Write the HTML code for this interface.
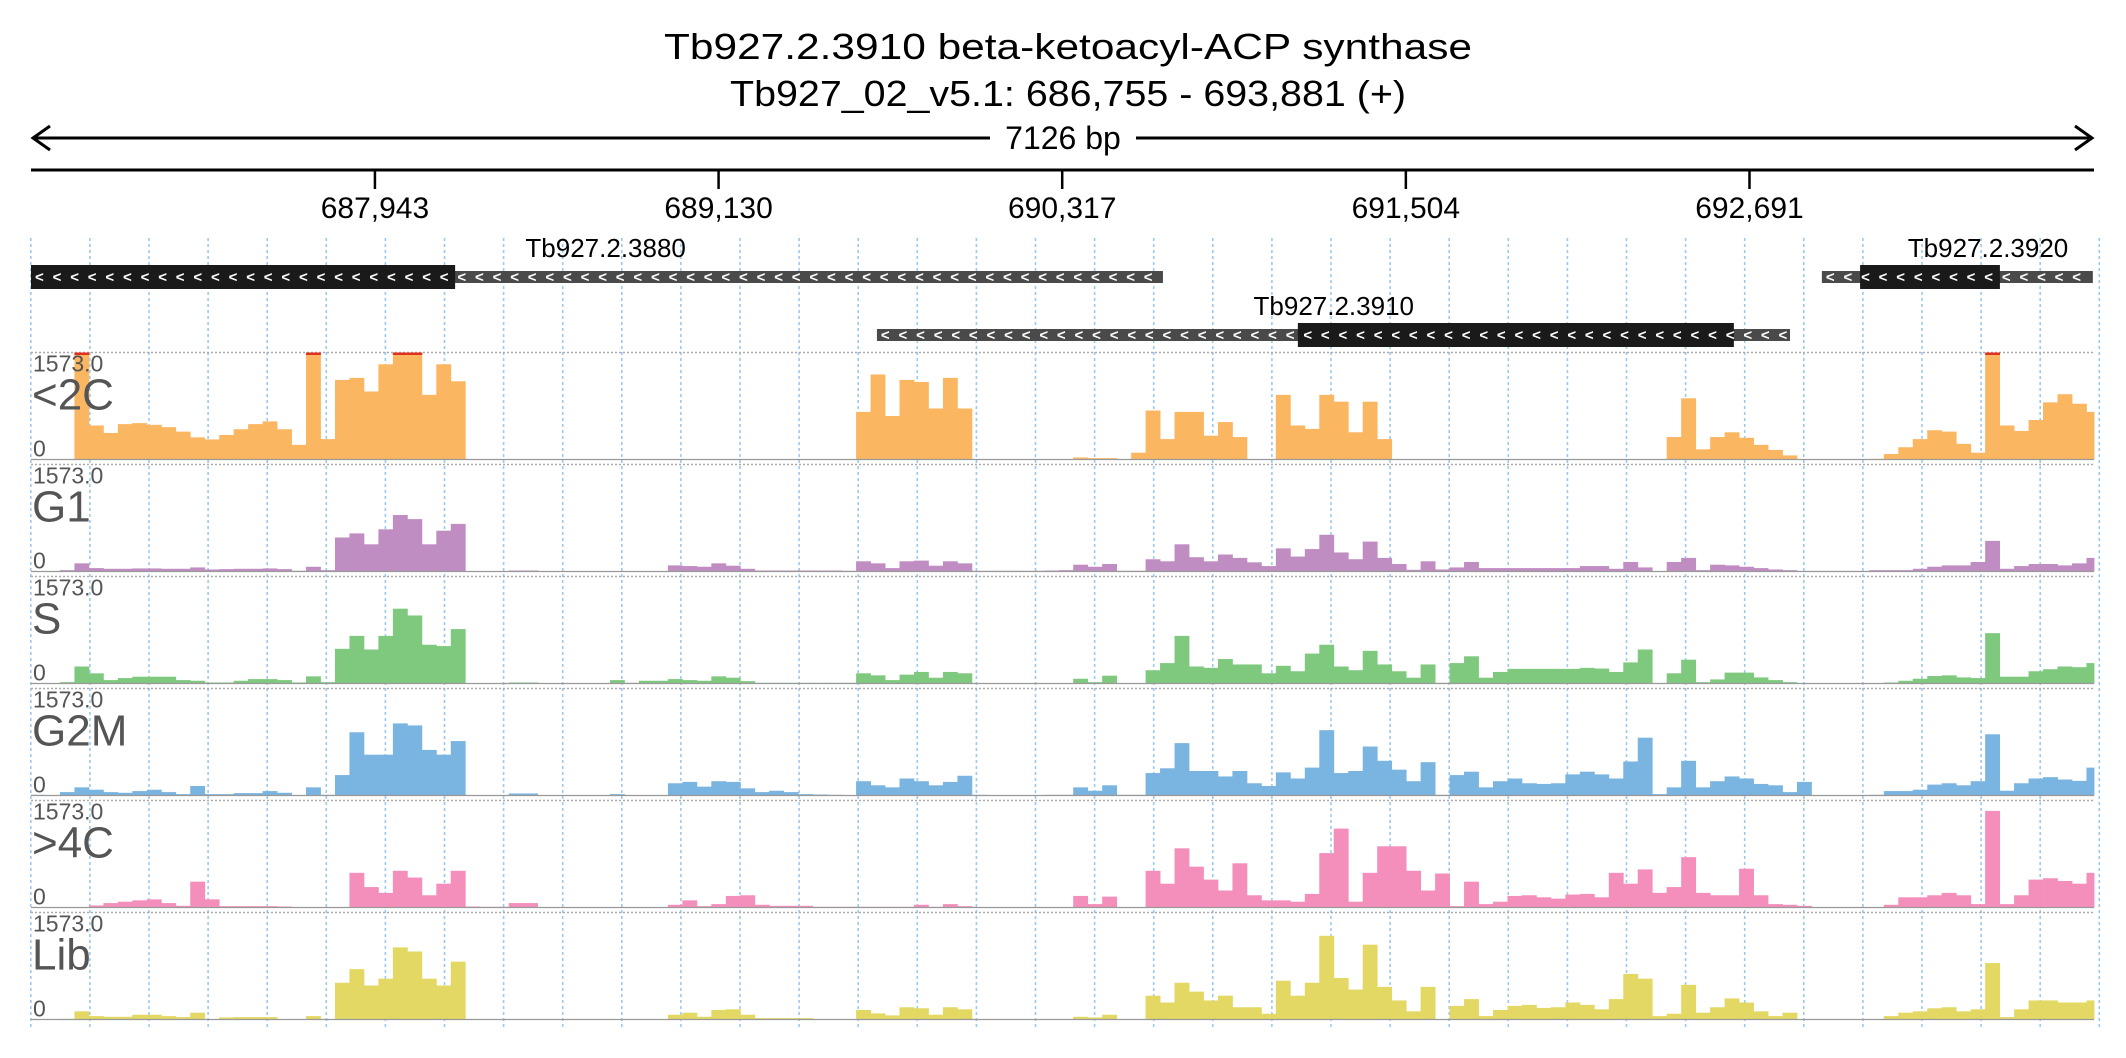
<!DOCTYPE html>
<html><head><meta charset="utf-8"><style>
html,body{margin:0;padding:0;background:#fff;}
svg{display:block;font-family:"Liberation Sans",sans-serif;}
</style></head><body>
<svg id="chart" width="2126" height="1058" viewBox="0 0 2126 1058" xmlns="http://www.w3.org/2000/svg">
<g>
<text x="1068" y="59" text-anchor="middle" font-size="36" textLength="808" lengthAdjust="spacingAndGlyphs">Tb927.2.3910  beta-ketoacyl-ACP synthase</text>
<text x="1068" y="106" text-anchor="middle" font-size="36" textLength="676" lengthAdjust="spacingAndGlyphs">Tb927_02_v5.1: 686,755 - 693,881 (+)</text>
</g>
<g>
<line x1="33" y1="138" x2="2092" y2="138" stroke="#000" stroke-width="3"/>
<polyline points="50,126 33,138 50,150" fill="none" stroke="#000" stroke-width="3"/>
<polyline points="2075,126 2092,138 2075,150" fill="none" stroke="#000" stroke-width="3"/>
<rect x="990" y="120" width="146" height="36" fill="#fff"/>
<text x="1063" y="149" text-anchor="middle" font-size="32">7126 bp</text>
</g>
<line x1="31" y1="170" x2="2094" y2="170" stroke="#000" stroke-width="3"/>
<g id="ticks"></g>
<g id="grid"></g>
<g id="genes"></g>
<g id="tracks"></g>
</svg>
<script>
const startBp = 686755;
const spanBp = 7126;
const binBp = 50;
const maxVal = 1573;
const tickValues = [687943, 689130, 690317, 691504, 692691];
const tickLabels = ["687,943", "689,130", "690,317", "691,504", "692,691"];
const trackNames = ["<2C", "G1", "S", "G2M", ">4C", "Lib"];
const trackColors = ["#fbb661", "#c08dc3", "#7fc97f", "#7ab4e0", "#f48fbc", "#e3d863"];
const genes = ["Tb927.2.3880", "Tb927.2.3910", "Tb927.2.3920"];
const geneStart = [686755, 689677, 692941];
const geneEnd = [690665, 692831, 693877];
const cdsStart = [686755, 691131, 693073];
const cdsEnd = [688220, 692637, 693556];
const geneRow = [0, 1, 0];
const geneLabelBp = [688740, 691255, 693515];

const cov2C = [0,0,0,1700,500,390,520,535,510,475,410,325,295,360,445,520,560,445,215,1700,300,1170,1200,1000,1400,1700,1700,950,1400,1150,
0,0,0,0,0,0,0,0,0,0,0,0,0,0,0,0,0,0,0,0,0,0,0,0,0,0,0,
700,1250,640,1170,1140,750,1200,750,
0,0,0,0,0,0,0,
30,20,20,0,100,720,300,700,700,350,550,330,0,0,950,500,450,950,850,400,850,300,
0,0,0,0,0,0,0,0,0,0,0,0,0,0,0,0,0,0,0,
330,900,150,330,400,320,215,140,60,5,5,5,5,5,10,80,180,300,430,410,230,100,1700,500,420,580,840,960,820,700];
const covG1 = [5,5,20,120,50,40,40,45,45,40,40,60,30,35,40,40,45,35,10,70,20,500,560,400,620,830,770,400,600,700,
5,5,5,15,15,5,5,5,5,5,5,5,5,5,
90,80,70,120,85,40,15,15,15,15,15,15,10,150,120,50,150,160,85,150,120,10,10,10,10,10,15,20,
100,70,110,10,10,180,150,400,210,150,250,200,135,80,340,220,330,540,280,180,440,200,110,25,150,30,60,140,50,50,50,50,50,50,50,
80,80,40,140,60,0,140,200,20,100,90,70,50,30,20,8,8,8,8,8,20,20,20,40,70,90,90,140,450,40,80,110,110,90,120,200];
const covS = [5,5,20,250,150,50,80,100,100,100,50,40,15,15,40,65,65,50,15,105,20,510,700,500,700,1100,1000,570,550,800,
5,5,5,15,15,5,5,5,5,5,
50,10,40,40,65,50,40,105,85,35,10,10,10,10,10,10,10,150,120,50,130,170,85,170,150,5,5,5,5,5,5,5,
70,20,115,5,5,195,300,700,250,230,360,280,280,150,260,180,440,570,250,195,480,280,180,85,280,10,300,400,85,170,215,215,215,215,215,
230,220,170,310,500,0,150,350,20,60,160,160,90,50,20,5,5,5,5,5,5,15,40,70,110,120,90,80,740,100,100,180,210,250,240,300];
const covG2M = [10,5,50,120,85,50,40,65,85,50,20,140,20,20,35,35,65,40,5,120,10,300,930,600,600,1060,1030,670,600,800,
5,5,5,30,30,5,5,5,5,5,20,5,5,5,
180,200,130,210,200,105,50,70,50,20,15,10,5,210,150,120,250,210,150,200,290,10,5,5,5,5,10,10,
120,70,150,10,10,330,400,770,360,360,280,360,180,140,340,250,410,960,330,360,720,510,380,210,490,10,300,350,120,210,250,180,170,180,310,
350,310,250,500,850,20,120,510,120,210,280,250,170,150,50,200,5,3,3,3,10,65,65,85,160,180,150,210,900,70,180,250,270,235,215,410];
const cov4C = [5,5,5,5,30,65,85,105,120,65,25,380,120,20,20,20,20,15,3,3,3,3,510,300,215,540,440,180,350,540,15,10,10,65,65,5,5,5,5,5,5,5,5,5,
40,105,20,50,170,180,40,25,25,25,10,10,10,10,10,10,10,40,10,50,20,5,5,5,5,5,5,5,
170,50,160,5,5,540,350,870,600,410,250,650,180,105,105,85,200,800,1160,85,510,900,900,540,250,500,20,380,50,85,170,180,150,130,190,
200,150,510,350,560,215,300,740,215,180,180,570,180,50,40,25,5,5,5,5,5,40,150,150,180,215,180,50,1420,50,180,410,430,390,350,510];
const covLib = [5,5,10,120,50,40,40,70,70,50,35,100,5,30,35,35,35,5,5,50,5,540,740,500,600,1060,1000,600,500,850,3,3,3,3,3,3,3,3,3,3,3,3,3,3,
70,100,40,140,150,70,20,20,20,20,5,5,5,140,90,60,180,165,70,180,150,5,5,5,5,5,5,5,
40,30,70,3,3,350,250,540,410,280,350,180,180,85,570,350,540,1230,610,440,1100,480,280,120,480,5,200,300,50,140,200,215,170,180,250,
215,150,300,670,600,50,85,510,100,180,310,250,120,50,100,5,3,3,3,3,3,50,100,120,165,180,120,150,830,35,150,280,280,250,250,280];
const coverage = [cov2C, covG1, covS, covG2M, cov4C, covLib];

const NS = "http://www.w3.org/2000/svg";
const X0 = 31, X1 = 2094;
function xScale(bp){ return X0 + (bp - startBp) / spanBp * (X1 - X0); }
const trackTop0 = 352.5, trackStep = 112, trackH = 107;
function trackTop(k){ return trackTop0 + k * trackStep; }
function yScale(k, v){ return trackTop(k) + trackH - Math.min(v, maxVal) / maxVal * trackH; }
function mk(tag, attrs, parent){ const e = document.createElementNS(NS, tag); for (const a in attrs) e.setAttribute(a, attrs[a]); parent.appendChild(e); return e; }

const tg = document.getElementById('ticks');
tickValues.forEach((t, i) => {
  const x = xScale(t);
  const l = mk('line', {x1:x, y1:170, x2:x, y2:189, stroke:'#000', 'stroke-width':2.5}, tg);
  
  
  const tx = mk('text', {x:x, y:218, 'text-anchor':'middle', 'font-size':30}, tg);
  tx.textContent = tickLabels[i];
  
  
});

const gg = document.getElementById('grid');
for (let k = 0; k <= 35; k++) {
  const x = 30.8 + k * 59.1;
  const l = mk('line', {x1:x, y1:238, x2:x, y2:1028, stroke:'#9cc9ee', 'stroke-width':1.6, 'stroke-dasharray':'3,3'}, gg);
  
  
}

const ge = document.getElementById('genes');
const rowY = [277, 335];
genes.forEach((g, i) => {
  const cy = rowY[geneRow[i]];
  const xs = xScale(geneStart[i]), xe = xScale(geneEnd[i]);
  const cs = xScale(cdsStart[i]), ce = xScale(cdsEnd[i]);
  const grp = mk('g', {}, ge);
  
  
  mk('rect', {x:xs, y:cy-6, width:xe-xs, height:12, fill:'#4a4a4a'}, grp);
  mk('rect', {x:cs, y:cy-12, width:ce-cs, height:24, fill:'#1a1a1a'}, grp);
  for (let x = xs + 4; x < xe - 8; x += 17.6) {
    const c = mk('text', {x:x, y:cy+5, 'font-size':15, 'font-weight':'bold', fill:'#fff'}, grp);
    c.textContent = '<';
  }
  const lab = mk('text', {x:xScale(geneLabelBp[i]), y:cy-20, 'text-anchor':'middle', 'font-size':26}, grp);
  lab.textContent = g;
  
  
});

const trg = document.getElementById('tracks');
const binW = binBp / spanBp * (X1 - X0);
coverage.forEach((arr, k) => {
  const top = trackTop(k), base = top + trackH;
  const g = mk('g', {}, trg);
  
  
  mk('line', {x1:31, y1:top, x2:X1, y2:top, stroke:'#aaa', 'stroke-width':1.5, 'stroke-dasharray':'2,2'}, g);
  arr.forEach((v, i) => {
    const x = xScale(startBp + i * binBp);
    const w = Math.min(binW, X1 - x);
    if (w <= 0 || v <= 0) return;
    const y = yScale(k, v);
    const r = mk('rect', {x:x, y:y, width:w+0.4, height:base-y, fill:trackColors[k]}, g);
    
    
    if (v > maxVal) mk('rect', {x:x, y:top, width:w+0.4, height:2.5, fill:'#e0301e'}, g);
  });
  mk('line', {x1:31, y1:base, x2:X1, y2:base, stroke:'#999', 'stroke-width':1.2}, g);
  const mx = mk('text', {x:33, y:top+19, 'font-size':23, fill:'#555'}, g);
  mx.textContent = '1573.0';
  
  
  const nm = mk('text', {x:32, y:top+57, 'font-size':44, fill:'#555'}, g);
  nm.textContent = trackNames[k];
  
  
  const z = mk('text', {x:33, y:top+104, 'font-size':23, fill:'#555'}, g);
  z.textContent = '0';
  
  
});
</script>
</body></html>
